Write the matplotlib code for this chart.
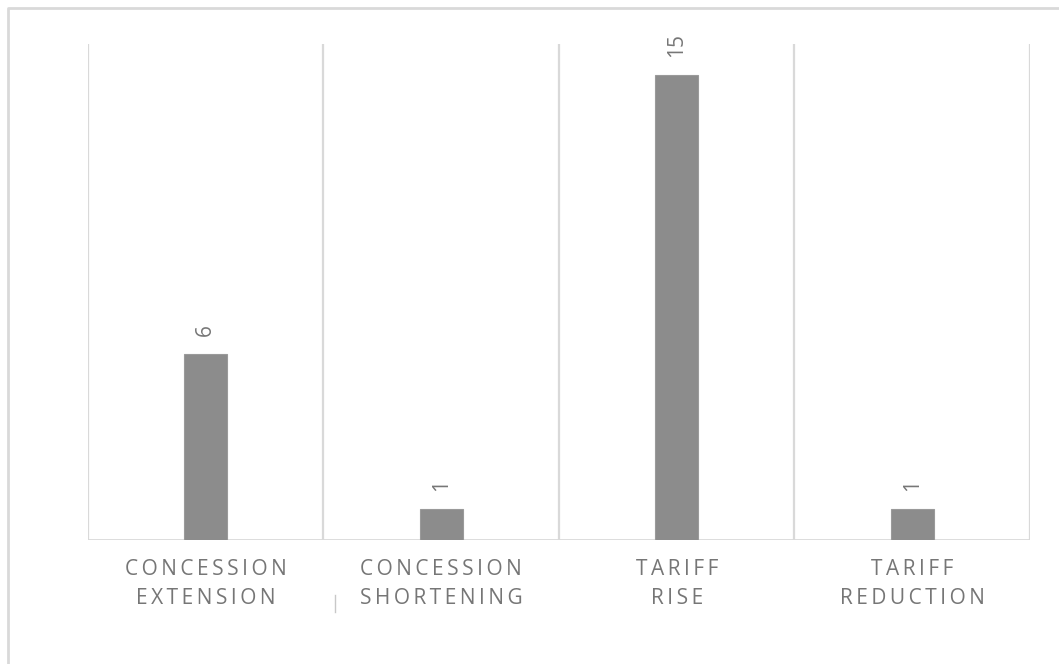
import matplotlib
matplotlib.use("Agg")
import matplotlib.pyplot as plt
from matplotlib.lines import Line2D

# Contract changes by type
categories = ["CONCESSION\nEXTENSION", "CONCESSION\nSHORTENING", "TARIFF\nRISE", "TARIFF\nREDUCTION"]
counts = [6, 1, 15, 1]

GRID = "#d9d9d9"
TEXT = "#767676"
BAR = "#8c8c8c"


def spaced(label: str) -> str:
    # wide tracking on the category labels (thin spaces between letters)
    return "\n".join("\u2009".join(line) for line in label.split("\n"))


plt.rcParams["font.family"] = ["Open Sans", "DejaVu Sans"]

fig = plt.figure(figsize=(10.59, 6.64), dpi=100)
ax = fig.add_axes([0.0831, 0.1867, 0.8895, 0.747])

x = list(range(len(categories)))
ax.bar(x, counts, width=0.183, color=BAR, edgecolor="#9a9a9a", linewidth=0.8, zorder=3)

ax.set_xlim(-0.5, len(categories) - 0.5)
ax.set_ylim(0, 16)

# vertical separators between categories
for b in range(len(categories) + 1):
    ax.axvline(b - 0.5, color=GRID, linewidth=1.6, zorder=1)
ax.axhline(0, color=GRID, linewidth=2, zorder=2)

for spine in ax.spines.values():
    spine.set_visible(False)
ax.set_yticks([])
ax.set_xticks(x)
ax.set_xticklabels([spaced(c) for c in categories], color=TEXT, fontsize=15,
                   linespacing=1.5, va="top")
ax.tick_params(axis="x", length=0, pad=14)

# value labels, rotated
for xi, v in zip(x, counts):
    ax.annotate(str(v), (xi, v), xytext=(0, 13), textcoords="offset points",
                rotation=90, ha="center", va="bottom", color=TEXT, fontsize=15)

# chart area frame (top and left edges)
fig.add_artist(Line2D([0.0076, 0.0076, 1.0], [0.0, 0.988, 0.988],
                      transform=fig.transFigure, color=GRID, linewidth=2))
fig.add_artist(Line2D([0.3163, 0.3163], [0.078, 0.104],
                      transform=fig.transFigure, color="#c8c8c8", linewidth=1))

fig.savefig("out.png", dpi=100)
